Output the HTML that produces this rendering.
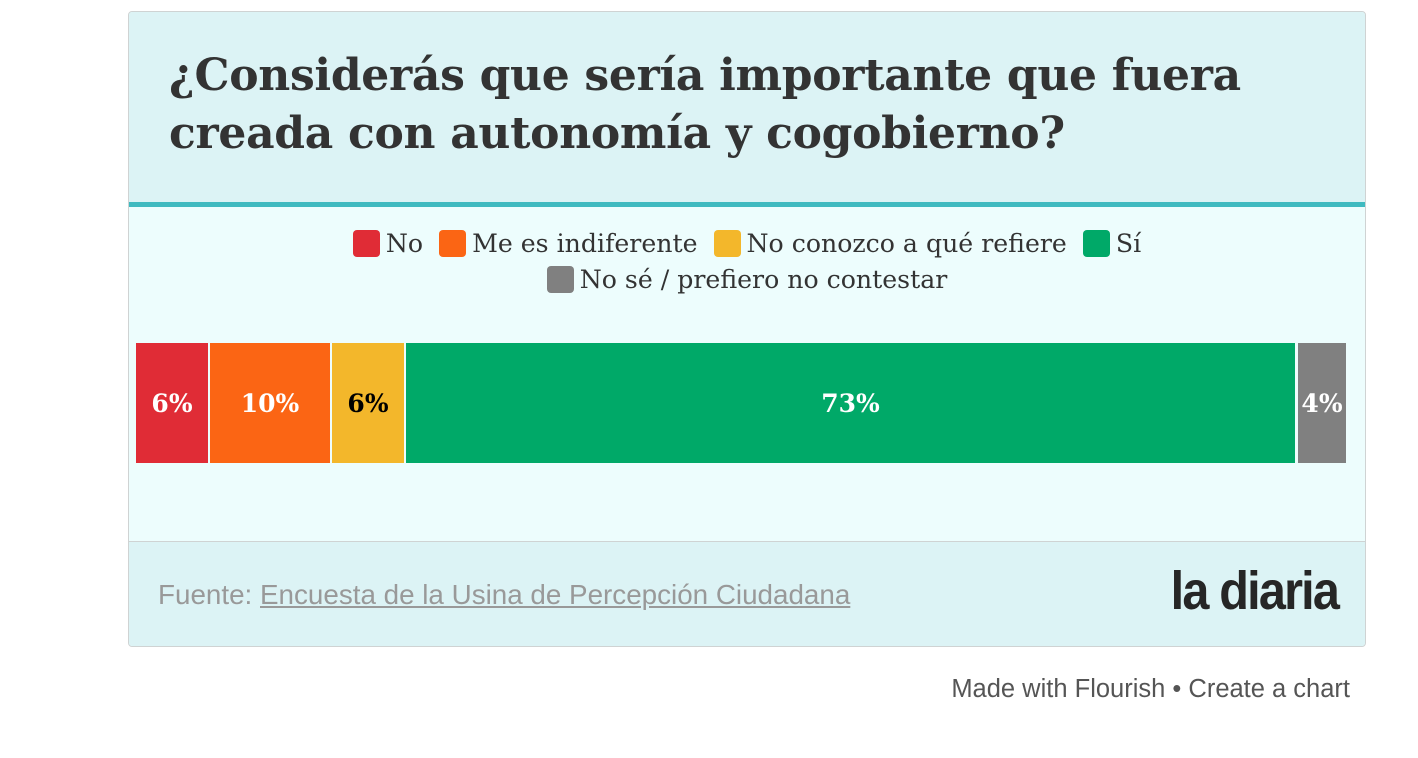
<!DOCTYPE html>
<html><head><meta charset="utf-8"><style>
body{margin:0;width:1418px;height:758px;background:#fff;position:relative;overflow:hidden;font-family:"Liberation Sans",sans-serif}
.card{position:absolute;left:128px;top:11px;width:1236px;height:634px;border:1px solid #cfd3d3;border-radius:4px;background:#edfdfd;overflow:hidden}
.head{position:absolute;left:0;top:0;width:100%;height:190px;background:#dcf3f5;border-bottom:5px solid #3fbac0}
.title{position:absolute;left:40px;top:35px;font-family:"DejaVu Serif",serif;font-weight:bold;font-size:44px;line-height:58px;color:#333;letter-spacing:-0.3px;white-space:nowrap}
.legend{position:absolute;left:0;width:100%;text-align:center;font-family:"DejaVu Serif",serif;font-size:25.2px;color:#333}
.legend span{display:inline-block;margin:0 4px}
.sw{display:inline-block;width:27px;height:27px;border-radius:4px;vertical-align:-5px;margin-right:6px}
.seg{position:absolute;top:331px;height:120px;color:#fff;font-family:"DejaVu Serif",serif;font-weight:bold;font-size:25px;display:flex;align-items:center;justify-content:center}
.foot{position:absolute;left:0;top:529px;width:100%;height:105px;background:#dcf3f5;border-top:1px solid #cfd3d3}
</style></head><body>
<div class="card">
<div class="head"><div class="title">¿Considerás que sería importante que fuera<br>creada con autonomía y cogobierno?</div></div>
<div class="legend" style="top:217px"><span><i class="sw" style="background:#e02c36"></i>No</span> <span><i class="sw" style="background:#fb6514"></i>Me es indiferente</span> <span><i class="sw" style="background:#f3b72b"></i>No conozco a qué refiere</span> <span><i class="sw" style="background:#00a968"></i>Sí</span></div>
<div class="legend" style="top:253px"><span><i class="sw" style="background:#808080"></i>No sé / prefiero no contestar</span></div>
<div class="seg" style="left:7px;width:72px;background:#e02c36">6%</div>
<div class="seg" style="left:81px;width:120px;background:#fb6514">10%</div>
<div class="seg" style="left:203px;width:72px;background:#f3b72b;color:#000">6%</div>
<div class="seg" style="left:277px;width:889px;background:#00a968">73%</div>
<div class="seg" style="left:1169px;width:48px;background:#808080">4%</div>
<div class="foot">
<div style="position:absolute;left:29px;top:37px;font-size:27.8px;color:#999">Fuente: <span style="text-decoration:underline">Encuesta de la Usina de Percepción Ciudadana</span></div>
<div style="position:absolute;right:27px;top:18px;font-size:54px;font-weight:bold;color:#262626;letter-spacing:-2px;transform:scaleX(0.9);transform-origin:right center">la diaria</div>
</div>
</div>
<div style="position:absolute;right:68px;top:675px;font-size:25.5px;color:#555">Made with Flourish • Create a chart</div>
</body></html>
